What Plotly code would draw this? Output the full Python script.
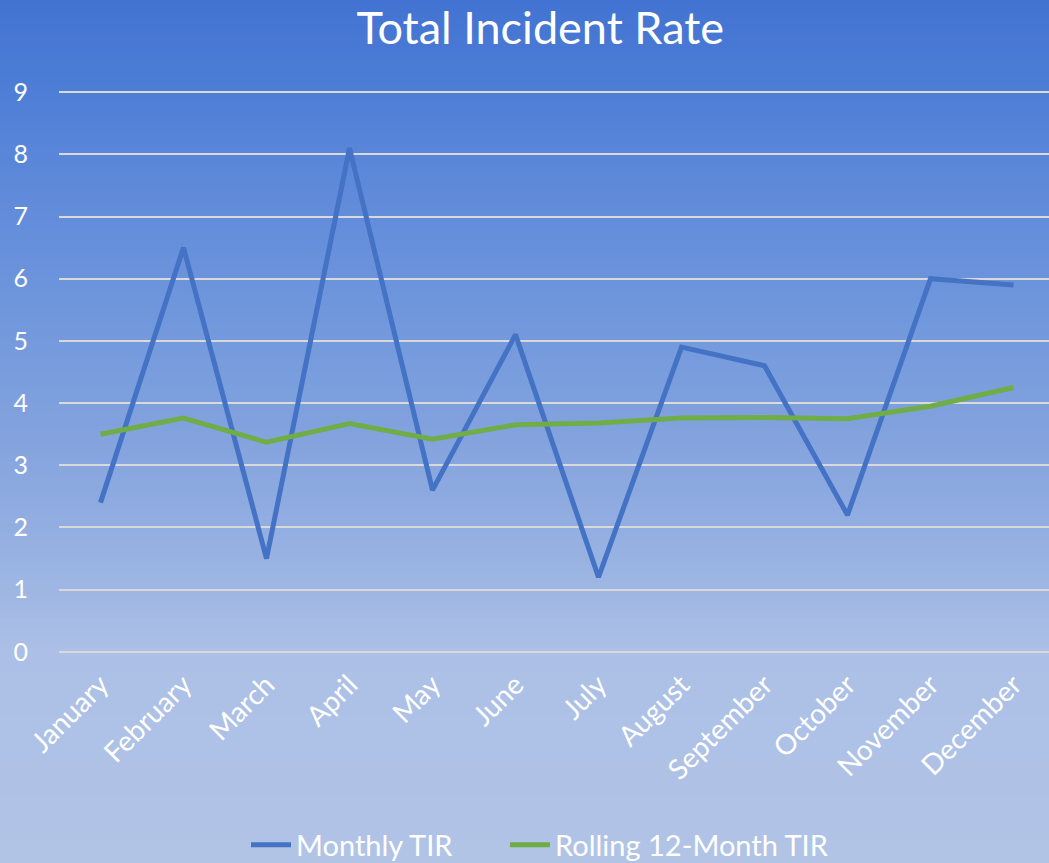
import plotly.graph_objects as go

months = ["January", "February", "March", "April", "May", "June", "July",
          "August", "September", "October", "November", "December"]
monthly_tir = [2.4, 6.5, 1.5, 8.1, 2.6, 5.1, 1.2, 4.9, 4.6, 2.2, 6.0, 5.9]
rolling_tir = [3.5, 3.76, 3.37, 3.67, 3.42, 3.65, 3.68, 3.76, 3.77, 3.75, 3.95, 4.25]
y_ticks = [0, 1, 2, 3, 4, 5, 6, 7, 8, 9]

W, H = 1049, 863
PXU = 62.22          # pixels per y unit
PAD = 0.05           # y range padding so edge gridlines show
ML, MR = 59, 0
MT = round(92 - PAD * PXU)
MB = round(H - 652 - PAD * PXU)
PW, PH = W - ML - MR, H - MT - MB

FONT = "Lato, 'Open Sans', sans-serif"

fig = go.Figure()
fig.add_trace(go.Scatter(x=months, y=monthly_tir, mode="lines", name="Monthly TIR",
                         line=dict(color="#4472C4", width=5), legend="legend"))
fig.add_trace(go.Scatter(x=months, y=rolling_tir, mode="lines", name="Rolling 12-Month TIR",
                         line=dict(color="#70AD47", width=5), legend="legend2"))

# vertical gradient background (pixel rows -> colour)
stops = [(0, (66, 115, 210)), (90, (77, 126, 214)), (180, (94, 137, 218)),
         (300, (110, 150, 220)), (450, (133, 164, 222)), (560, (152, 178, 226)),
         (650, (172, 191, 230)), (863, (177, 196, 230))]

def col_at(py):
    for (p0, c0), (p1, c1) in zip(stops[:-1], stops[1:]):
        if p0 <= py <= p1:
            t = (py - p0) / (p1 - p0)
            return "rgb(%d,%d,%d)" % tuple(round(a + (b - a) * t) for a, b in zip(c0, c1))
    return "rgb(%d,%d,%d)" % stops[-1][1]

shapes = []
step = 6
for py in range(0, H + step, step):
    y_top = 1 - (py - MT) / PH
    y_bot = 1 - (py + step + 1 - MT) / PH
    shapes.append(dict(type="rect", xref="paper", yref="paper",
                       x0=-ML / PW - 0.01, x1=1 + 0.01, y0=y_bot, y1=y_top,
                       fillcolor=col_at(py + step / 2), line=dict(width=0), layer="below"))

leg_y = -(845 - (H - MB)) / PH
leg_common = dict(orientation="h", xanchor="left", y=leg_y, yanchor="middle",
                  font=dict(size=29, color="white"), bgcolor="rgba(0,0,0,0)",
                  itemwidth=40)

fig.update_layout(
    width=W, height=H,
    margin=dict(l=ML, r=MR, t=MT, b=MB, autoexpand=False),
    paper_bgcolor="rgb(177,196,230)",
    plot_bgcolor="rgba(0,0,0,0)",
    shapes=shapes,
    title=dict(text="Total Incident Rate", x=0.515, xref="container", xanchor="center",
               y=1 - 28 / H, yanchor="middle",
               font=dict(family=FONT, size=45, color="white")),
    font=dict(family=FONT, color="white"),
    showlegend=True,
    legend=dict(x=(256 - 10 - ML) / PW, **leg_common),
    legend2=dict(x=(515 - 10 - ML) / PW, **leg_common),
    xaxis=dict(range=[-0.5, -0.5 + PW / 83.0], showgrid=False, zeroline=False,
               showline=False, tickangle=-45, tickfont=dict(size=28, color="white"),
               ticks="", ticklabelstandoff=7, fixedrange=True),
    yaxis=dict(range=[-PAD, 9 + PAD], tickvals=y_ticks, showgrid=True, gridcolor="#D9D9D9",
               gridwidth=2, zeroline=False, showline=False,
               tickfont=dict(size=25, color="white"), ticks="", ticklabelstandoff=30,
               fixedrange=True),
)

fig.write_html("out.html", config={"displayModeBar": False},
               post_script="document.body.style.margin='0';document.body.style.overflow='hidden';")
